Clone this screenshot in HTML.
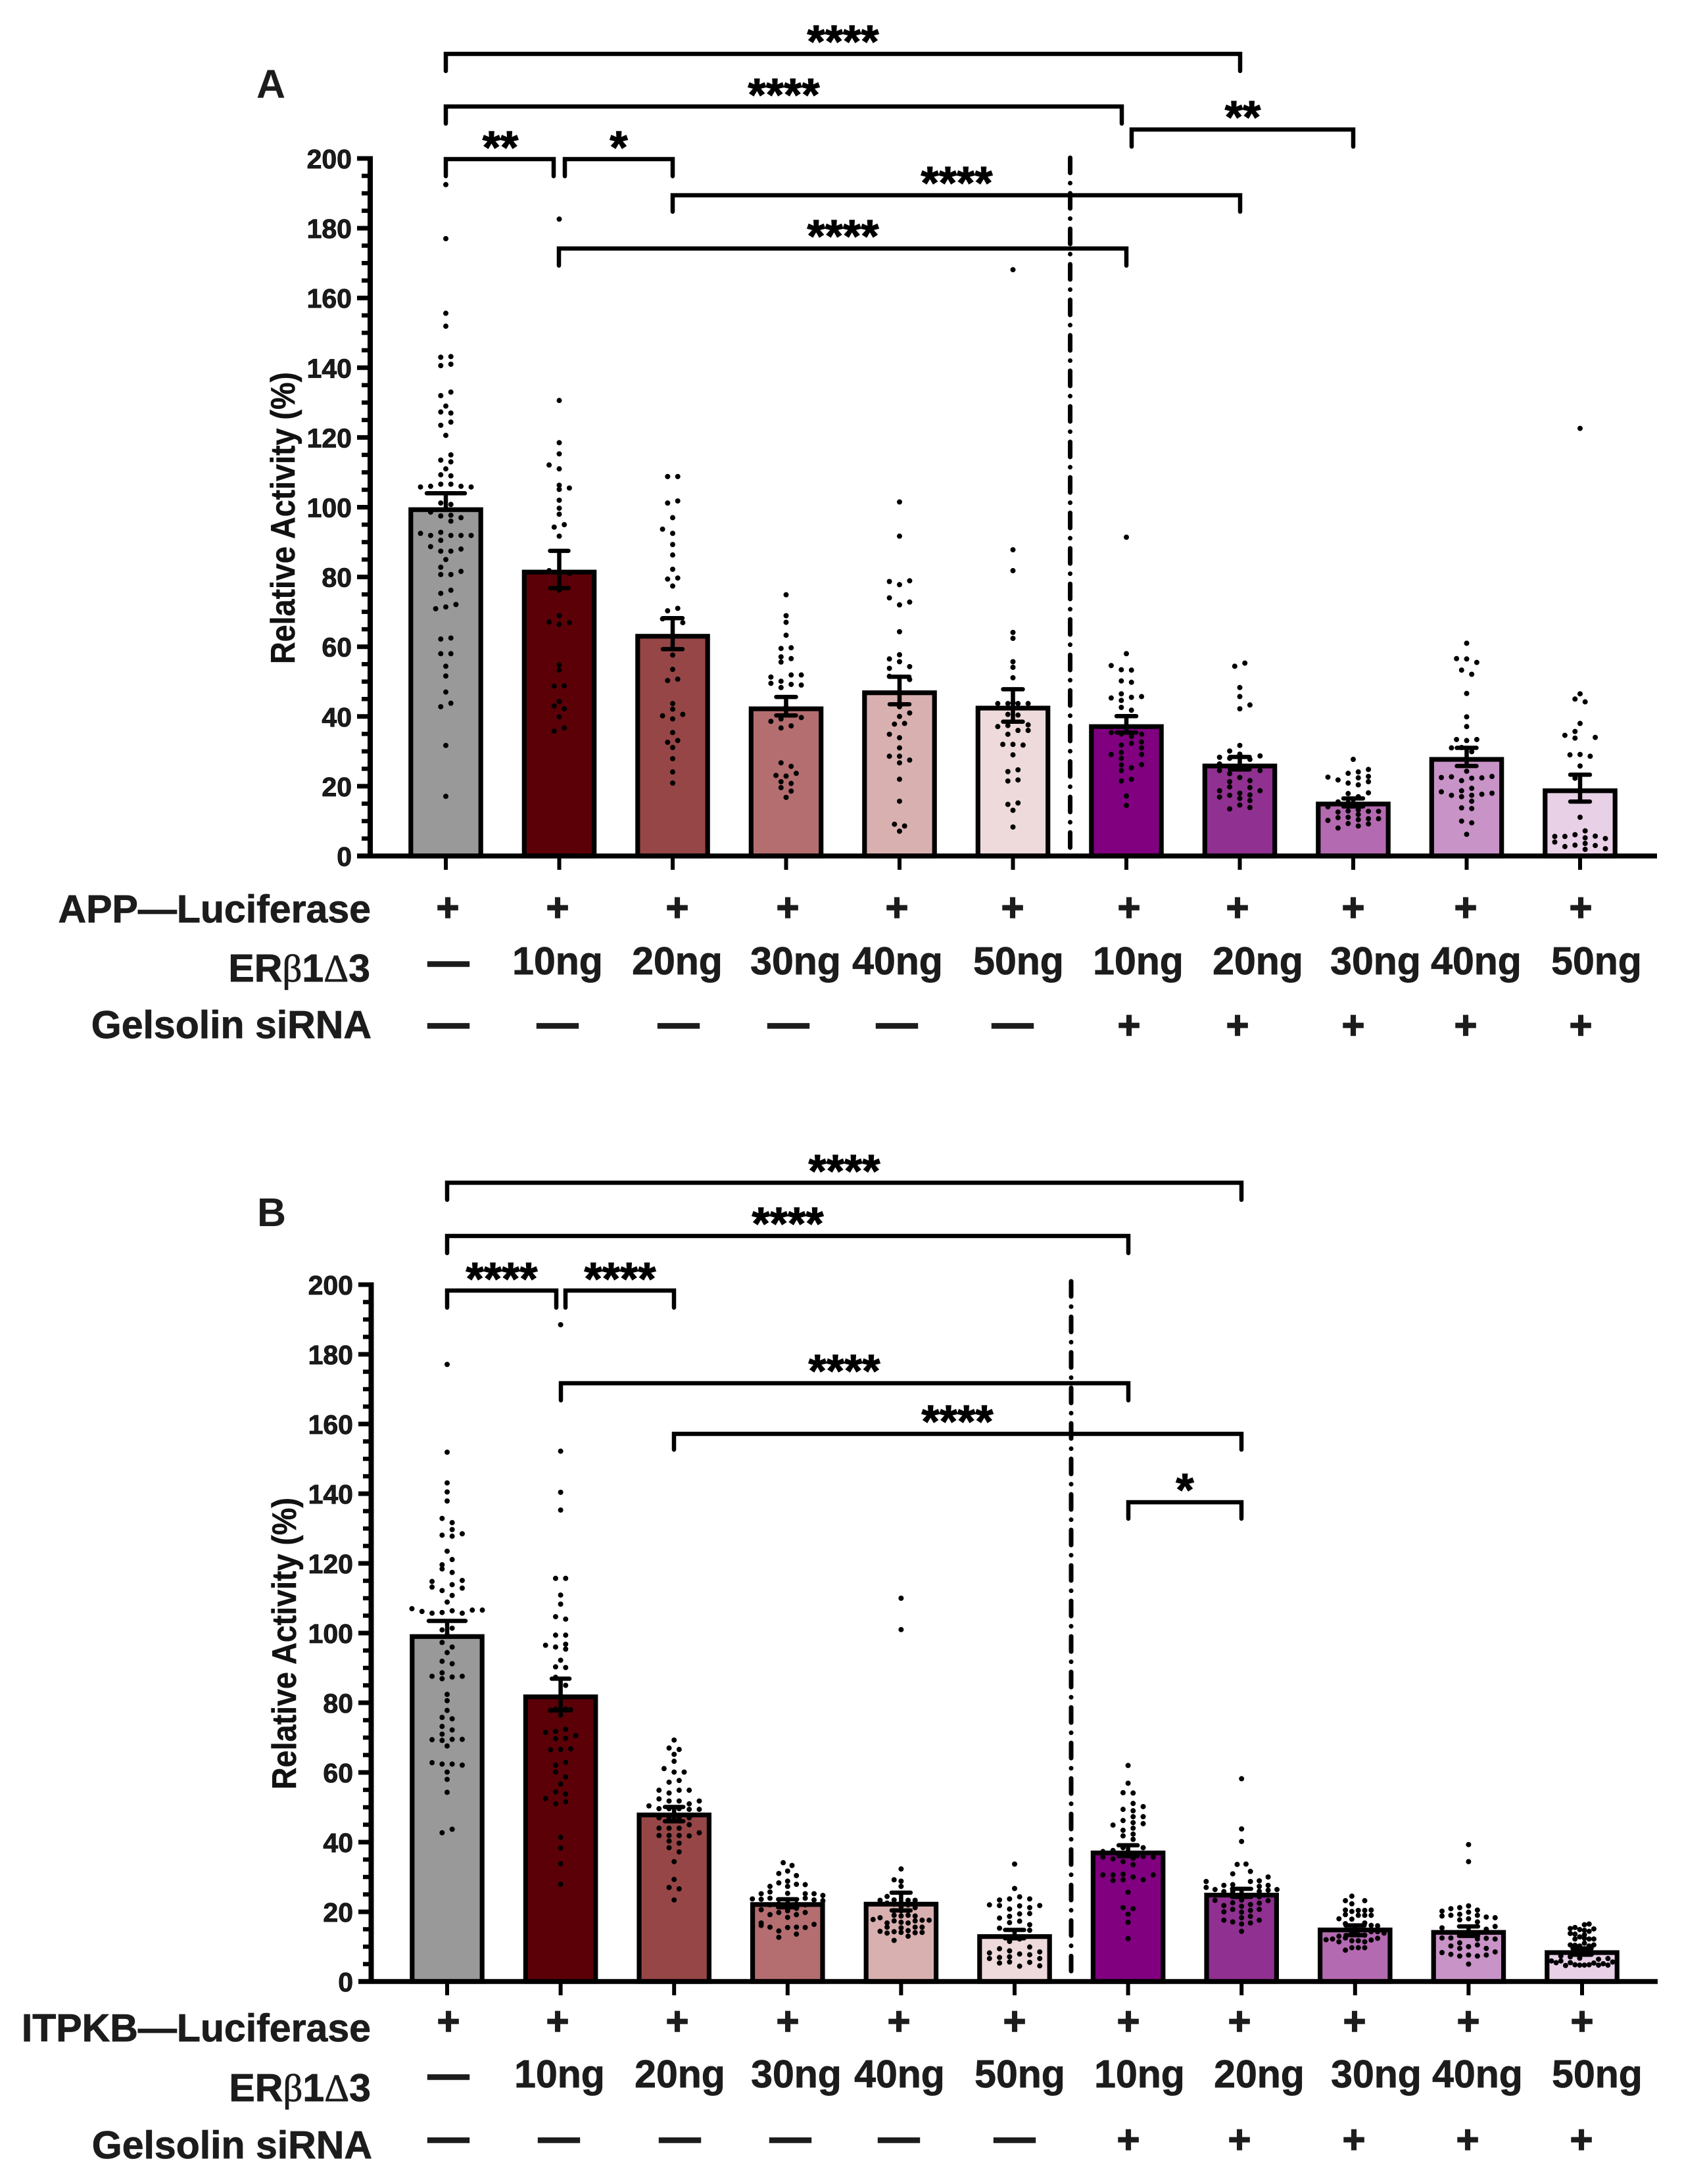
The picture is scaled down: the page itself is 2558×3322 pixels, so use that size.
<!DOCTYPE html>
<html lang="en">
<head>
<meta charset="utf-8">
<title>Relative Activity panels A and B</title>
<style>
html,body{margin:0;padding:0;background:#fff;}
svg{display:block;}
text{font-family:"Liberation Sans",sans-serif;font-weight:bold;fill:#1c1c1c;}
.sym{font-family:"Liberation Serif",serif;font-weight:normal;}
.row{font-size:59px;stroke:#1c1c1c;stroke-width:.8px;}
.stars{font-size:70px;fill:#000;text-anchor:middle;stroke:#000;stroke-width:1.2px;}
.ttl{font-size:52px;fill:#111;stroke:#111;stroke-width:.5px;}
.br{fill:none;stroke:#000;stroke-width:6.5px;stroke-linecap:round;stroke-linejoin:miter;}
.ldr{fill:none;stroke:#000;stroke-width:7px;stroke-linecap:round;stroke-dasharray:23 15.5 .01 15.5;}
</style>
</head>
<body>
<svg id="figure" xmlns="http://www.w3.org/2000/svg" width="2558" height="3322" viewBox="0 0 2558 3322">
<rect width="2558" height="3322" fill="#fff"/>
<g id="panelA"></g>
<g id="panelB"></g>

<g>
<text x="390" y="149" font-size="61" fill="#222">A</text>
<text class="ttl" transform="translate(448,788) rotate(-90)" text-anchor="middle" textLength="444" lengthAdjust="spacingAndGlyphs">Relative Activity (%)</text>
<text class="row" x="564" y="1403" text-anchor="end">APP—Luciferase</text>
<text class="row" x="563" y="1493" text-anchor="end">ER<tspan class="sym">β</tspan>1<tspan class="sym">Δ</tspan>3</text>
<text class="row" x="565" y="1579" text-anchor="end">Gelsolin siRNA</text>
<path class="br" d="M678 108V82H1886V108"/>
<text class="stars" x="1282" y="87">****</text>
<path class="br" d="M678 188V162H1706V188"/>
<text class="stars" x="1192" y="168">****</text>
<path class="br" d="M678 268V242H842V268"/>
<text class="stars" x="761" y="248">**</text>
<path class="br" d="M859 268V242H1023V268"/>
<text class="stars" x="941" y="248">*</text>
<path class="br" d="M1023 322V297H1886V322"/>
<text class="stars" x="1455" y="302">****</text>
<path class="br" d="M850 404V378H1713V404"/>
<text class="stars" x="1282" y="383">****</text>
<path class="br" d="M1721 223V197H2058V223"/>
<text class="stars" x="1890" y="202">**</text>
<line class="ldr" x1="1627.5" y1="240" x2="1627.5" y2="1292"/>
</g>

<g>
<text x="391" y="1865" font-size="61" fill="#222">B</text>
<text class="ttl" transform="translate(450,2500) rotate(-90)" text-anchor="middle" textLength="444" lengthAdjust="spacingAndGlyphs">Relative Activity (%)</text>
<text class="row" x="564" y="3105" text-anchor="end">ITPKB—Luciferase</text>
<text class="row" x="564" y="3196" text-anchor="end">ER<tspan class="sym">β</tspan>1<tspan class="sym">Δ</tspan>3</text>
<text class="row" x="566" y="3283" text-anchor="end">Gelsolin siRNA</text>
<path class="br" d="M680 1825V1799H1888V1825"/>
<text class="stars" x="1284" y="1805">****</text>
<path class="br" d="M680 1906V1880H1716V1906"/>
<text class="stars" x="1198" y="1885">****</text>
<path class="br" d="M680 1989V1963H846V1989"/>
<text class="stars" x="763" y="1969">****</text>
<path class="br" d="M860 1989V1963H1025V1989"/>
<text class="stars" x="943" y="1969">****</text>
<path class="br" d="M853 2130V2104H1716V2130"/>
<text class="stars" x="1284" y="2109">****</text>
<path class="br" d="M1025 2205V2181H1888V2205"/>
<text class="stars" x="1456" y="2186">****</text>
<path class="br" d="M1716 2310V2285H1888V2310"/>
<text class="stars" x="1802" y="2290">*</text>
<line class="ldr" x1="1629" y1="1949" x2="1629" y2="3005"/>
</g>
</svg>

<script>
// ---------- chart data ----------
const yTicks = [0,20,40,60,80,100,120,140,160,180,200];
const barColors = ["#999999","#5c0008","#964646","#b46e70","#d9b0b0","#eedadb","#800080","#903090","#b46ab0","#c893c6","#e8d0e6"];

const meansA = [99.3,81.4,63,42.2,46.8,42.4,37.1,25.8,14.9,27.7,18.7];
const errHighA = [104,87.5,68.2,45.6,51.4,47.8,40.1,28.4,16.5,31,23.3];
const errLowA = [99.3,76.8,59.3,40.3,43.5,38.5,35.4,24.8,14.2,25.8,15.6];

const meansB = [99,81.7,47.8,22.1,22.2,12.9,36.9,24.8,14.8,14.1,8.3];
const errHighB = [103.5,86.9,50.1,23.6,25.5,14.8,39.1,26.6,16.1,15.8,9.5];
const errLowB = [99,77.8,46,21.3,20.4,12.4,36,24.3,13.3,13.1,7.7];

const lucRow = ["+","+","+","+","+","+","+","+","+","+","+"];
const doseRow = ["—","10ng","20ng","30ng","40ng","50ng","10ng","20ng","30ng","40ng","50ng"];
const sirnaRow = ["—","—","—","—","—","—","+","+","+","+","+"];

// Data points: each key is the swarm column of a bar, each array the values in it.
const dotsA1 = {"0":[192.5,177,155.6,151.9,129,120.6,111,99.5,85,71.4,54.4,51.6,47,31.7,17.1],"-1":[143,140.6,132,127.3,123.5,113.5,109.3,106.6,101.2,97.5,92.8,90.5,87.4,82.8,80.7,75.3,62.2,58,42.8],"1":[143.2,141,133,127,124.4,115,113,109,106.6,100.8,97.7,96,91.9,87.4,80.7,76.2,62.5,58,43.8],"-3":[106,98.6,91.9,88.7],"3":[106,97,91.9,88,81.6],"-5":[105.8,92.5],"5":[105.8,91.9],"2":[72.1],"-2":[70.9]};
const dotsA2 = {"0":[182.6,130.6,118.5,115.3,111,106.3,105.1,102,99.7,98,91.7,76.2,68.9,66.4,54.8,53.3,44.3,39.9],"-2":[112.1,81.8,67.1],"2":[105.5,81,66.9],"1":[95,48.8,42.2,36.7],"-1":[94.3,48.7,43,35.8]};
const dotsA3 = {"-1":[108.8,101.2,79.4,70.3,50.3,32.6],"1":[108.8,101.8,79.7,71,50.7,33.1],"0":[97,92.5,89.3,86.3,82.2,77.4,57.6,53.5,43.7,42.1,39.3,35.4,31.1,27.9,24.1,20.9],"-2":[93.7,68,40.2],"2":[66.9,40.6]};
const dotsA4 = {"0":[74.9,68.9,67,63.3,42.7,22.9,16.8],"1":[59.7,56.6,51.9,49.2,37.3,25.7,20.8,18.6],"-1":[59.5,57.1,55.6,50.1,48.3,39.3,36.7,26.7,21.3,19.6],"3":[51.9,49,39.7],"-3":[51.3,49.5,38.6],"2":[23.7],"-2":[23.1]};
const dotsA5 = {"0":[101.5,91.7,77.8,72,64.3,57.7,55.7,42.8,40,33.9,31,28.6,26.7,22,15.7,7.1],"-2":[78.7,74,56.5,53.8,51.5,34.9,28.6],"2":[78.9,72.8,54.3,50.6,41,27.5],"-1":[37.8,9.1],"1":[38,8.6]};
const dotsA6 = {"0":[168.1,87.8,81.8,64.1,62.4,55.7,54.1,51.1,44,32,29,13.1,8.3],"-3":[43.7,37.1],"-1":[43.7,40.6,37.4,34.9,24.2,21.5,14.8],"1":[43.7,40.4,36,24.7,21.8,15.2],"3":[43.7,37.6,36],"-2":[32],"2":[31.8]};
const dotsA7 = {"0":[91.4,58,17.2,14.5],"-3":[54.6,45.3,35.4,29.1],"-1":[53.4,50.2,46.5,44.6,42.6,35,31.8,29.7,28,26.1,24.5,21.5],"1":[53.3,49.8,45.5,41.8,35.2,34.3,32.3,25.3,22],"3":[45.7,34.9,32.7,31,29.1,26.2]};
const dotsA8 = {"-1":[54.4],"1":[55.3],"0":[48.3,45.7,42.2,31.7,29.2,22.5,18,16.5,14.6],"2":[43.3,27.7,21.6,19.6,17.5,15.9,13.9],"-2":[30.1,28,23.6,21.3,19.8,17.4,13.5],"4":[28.7,24.5,18.7],"-4":[28.3,26.4,24.5,18.7,16.9]};
const dotsA9 = {"0":[27.7],"3":[24.8,22.8,21.3,18.1,12.8,10.7,9.2],"1":[24.1,22.4,20.4,17,13.2,11.9,10.4,8.6],"-1":[23.7,20.9,17.9,15.3,12.9,11.1,9.3],"-5":[22.6,14.1,10.2],"-3":[21.8,15.5,12.6,11,8],"5":[12.8,10.7]};
const dotsA10 = {"0":[61,56.5,46.6,39.9,37.1,33.1,24.3,6.2],"-2":[56.6,33.4],"2":[55.5,33.4],"-1":[53.3,31.1,21.6,18.7,17,13.8,10],"1":[52.1,29.9,22.3,19.4,17.4,15.7,13.6,9.5],"-3":[31,22.7,17.4],"-5":[22.5,18.4],"3":[22.4,17.7],"5":[22.8,18]};
const dotsA11 = {"0":[122.6,46.5,38,29.1,25.8,11.1],"-1":[45,35.7,33.8,22.3,6.1,3.1],"1":[44.2,7.2,5.2,3.6,1.9],"-3":[34.6,5.6,2.7],"3":[34,5.7,3],"-2":[29],"2":[28.6],"-5":[5.6,4],"5":[5,2.1]};

const dotsB1 = {"0":[177.1,151.9,143.1,140.5,137.9,123.5,108.9,99.4,94.4,82.4,80.6,77.8,67.6,60.1,58,54.3],"-1":[132.9,128.1,119.6,118.4,112.2,105.9,100.9,97.3,91.9,88.6,86.9,75.8,73.2,71,69.2,62.4,42.7],"1":[131.7,129.7,127.8,121.1,117.4,113.9,110.8,106.4,101.4,96,91.2,87.4,75.4,72.2,69.5,62.4,43.7],"3":[128.5,115.1,112.9,105.7,87.6,69.5,62.1],"-3":[114.8,113.2,105.7,87.6,69.4,62.8],"-7":[107],"7":[106.6],"5":[106.6],"-5":[106.2]};
const dotsB2 = {"0":[188.5,152.2,140.4,135.3,110.9,108.3,92.2,77.8,76.5,66.6,56.7,41.4,38.3,33.8,27.9],"-1":[115.7,104.7,99.4,96,90.3,87.3,71.8,69.7,62.1,60.1,54.4,51,78.2],"1":[115.7,104,99.4,96.8,95.4,90.1,85,78.2,72.4,69.8,62.9,58.7,53.8,51.6],"-3":[96.5,71.5,52.5],"3":[70.6],"-2":[77.8,66.5],"2":[78,66.8]};
const dotsB3 = {"0":[69.3,65.2,63.2,60.1,34.4,29.3,23.4],"-1":[67,57.2,54.1,51.8,49.6,47,44,41.9,40.3,38.4,27],"1":[66.6,57.7,54.9,51.8,49.6,47,44,41.9,39.7,37.2,26.6],"-2":[61.1],"2":[60.1],"-3":[54.9,52.4,49.6,47,44,41.9],"3":[54.9,51,49.4,47,45,41.8],"5":[51.8,49.4,42.7],"-5":[50.4]};
const dotsB4 = {"-1":[34.1],"1":[33.3],"0":[31.7,28.8,27.3,25.3,20.3,18.4,15.5],"-2":[31,28.3,22.3,19.8,14.5,12.7],"2":[30.4,27.9,22.3,21,19.2,15.6,13.6],"4":[27.8,25.2,23.9,22,19.8,15.5],"-4":[27.3,25.7,23.9,22,19.2,15.6],"-6":[25.2,23.6,20.6,16.8,16.1],"6":[25.2,23.4,16.4],"8":[24.7,23.2],"-8":[23.7]};
const dotsB5 = {"0":[110,101,32.3,28.8,27.3,22.5,21.5,20.3,18.8,17,15.4,14.1],"-2":[29.2,23.4,22.2,20.3,19,17.4,14.3,11.8],"-4":[24.4,22.5,16.8,15.6,13.9],"-6":[23.3,18.3,14.4],"2":[23.3,22,20.3,19,16.8,14.6,13],"4":[23.3,21.2,18.8,17.4,15.6,14],"-8":[17.8],"6":[17.6,15.6,14.1],"8":[17.6]};
const dotsB6 = {"0":[33.7,26.7],"1":[24.3,21.7,19.4,17.3,12.2,7.9,4.4],"-1":[23.7,20.8,18.7,16.9,12.3,11.5,8.8,7.1,5.6],"-3":[23.4,21.8,18.2,15.3,9.4,6.9,5.3],"3":[23.7,21.2,19.5,16.3,14.7,9.9,7.7,5.5],"-5":[22,8.2,6.6],"5":[21.8,8.5,6.6,4.5]};
const dotsB7 = {"0":[62,56.9,25.6,19.3,17,12.3],"-1":[54.2,49.4,46.2,43.4,41.8,38.4,34.4,30.8,29.2,21.2],"1":[54.1,51.1,49,47.3,45.6,44,42.3,40.8,35.4,33.5,30,20.9],"3":[50.2,47.3,45.3,38.4,35.9,29.2],"-3":[44.9,37.6,35.2,30.6,29],"-5":[37.3,35.7,30.6],"5":[35.7,30.6]};
const dotsB8 = {"0":[58.2,43.8,40.2,23.4,21.6,19.9,18.3,16.5,14.4],"-1":[33.6],"1":[33.7],"2":[31.6,28.7,22.1,20.4,18.7,16.8],"-2":[30.9,27.8,25.9,22.6,20.7,17.1],"6":[30,27.6,26.2,23.2],"4":[28.9,27.3,25.9,24.3,22.5,20.7,17.6],"-8":[28.7,27],"-4":[27.6,25.8,21.8,20,17.6],"-6":[26.4,23.3],"8":[26.4]};
const dotsB9 = {"-1":[24.5,22.3,20.1,17.9,14.1,11.7,9.7],"3":[23.2,20.4,19,16.8,13.3,11.4,9.7],"-3":[23.2,20.5,19.2,16.6,12.5,9],"1":[20.4,19,13.4,11.7,9.7],"5":[20.5,19,16.1,14.3,11.9],"-5":[18,13,11.4],"7":[16,14.3,12.4],"9":[13.9],"-9":[12],"-7":[12.2]};
const dotsB10 = {"0":[39.3,34.4,21.7,19.9,18,13.3,10,7.6,5],"-2":[21.2,19.3,17.7,13.6,11.1,9.5,7.3],"-4":[20.9,19,12.5,10.2,7.8],"-6":[20.2,18.8,15.4,12.5,8.3],"2":[20.5,19,17.1,12.2,10.5,7.3],"4":[18.5,15,12.4,9.5,7.6],"6":[18.3,15.8,12.2,8.5]};
const dotsB11 = {"1":[16.3,14.7,13.4,12.4,11,4.7],"3":[16.5,14.4,12.2,10.2,4.8],"-3":[15.5,13.6,12.2,10.4,4.8],"-5":[15.2,13.8,10.5,7.1,5.4],"5":[15.1,12.2,10.5,5.3],"-1":[14.9,12.8,10.2,6.7,4.7],"-9":[7.3,5.9],"11":[6.6,4.7],"7":[6.4,4.7],"-13":[5.9],"13":[5.6],"-11":[5.4],"9":[5.1],"-7":[4.6]};

const dotsA = [dotsA1,dotsA2,dotsA3,dotsA4,dotsA5,dotsA6,dotsA7,dotsA8,dotsA9,dotsA10,dotsA11];
const dotsB = [dotsB1,dotsB2,dotsB3,dotsB4,dotsB5,dotsB6,dotsB7,dotsB8,dotsB9,dotsB10,dotsB11];

// ---------- layout ----------
const NS = "http://www.w3.org/2000/svg";
const layoutA = {group:"panelA",axisX:563,y0:1302,y200:241,tickLeft:543,axisRight:2520,barX0:678,barDx:172.5,tickBottom:1323,
  halfSteps:[7.7,7.7,7.7,7.7,7.7,7.7,7.7,7.7,7.7,7.7,7.7],capW:[64,34,36,36,36,36,36,36,36,36,36],
  lucX:[681,848,1030,1198,1364,1540,1717,1882,2058,2229,2404],lucY:1381,
  doseX:[682,848,1030,1210,1365,1549,1731,1913,2092,2245,2428],doseBase:1482,doseDashY:1466,
  sirX:[682,848,1032,1199,1364,1540,1717,1882,2058,2229,2404],sirY:1560};
const layoutB = {group:"panelB",axisX:564.5,y0:3014,y200:1954,tickLeft:545,axisRight:2521,barX0:680,barDx:172.6,tickBottom:3035,
  halfSteps:[7.65,7.65,7.65,6.7,5.33,7.65,7.65,6.73,4.9,6.73,3.58],capW:[62,33,34,35,35,35,35,35,35,35,35],
  lucX:[682,848,1030,1198,1367,1543,1716,1885,2060,2233,2406],lucY:3075,
  doseX:[682,851,1034,1211,1368,1551,1733,1915,2093,2247,2429],doseBase:3175,doseDashY:3159,
  sirX:[682,850,1034,1202,1367,1543,1716,1885,2059,2232,2405],sirY:3255};

function mk(tag, parent, attrs){
  const el = document.createElementNS(NS, tag);
  for (const k in attrs) el.setAttribute(k, attrs[k]);
  parent.appendChild(el);
  return el;
}

function drawPanel(L, means, hi, lo, dots){
  const g = document.getElementById(L.group);
  const yS = v => L.y0 - v * (L.y0 - L.y200) / 200;
  const xS = i => L.barX0 + i * L.barDx;

  // bars
  means.forEach((m, i) => {
    const el = mk("rect", g, {x:xS(i)-53.2, y:yS(m), width:106.4, height:L.y0-yS(m), fill:barColors[i], stroke:"#000", "stroke-width":7.2});
    
    
  });

  // error bars
  means.forEach((m, i) => {
    const cx = xS(i), w = L.capW[i] / 2;
    const stem = mk("line", g, {x1:cx, x2:cx, y1:yS(hi[i]), y2:yS(lo[i]), stroke:"#000", "stroke-width":6.5});
    
    
    const capTop = mk("line", g, {x1:cx-w+3, x2:cx+w-3, y1:yS(hi[i]), y2:yS(hi[i]), stroke:"#000", "stroke-width":6.5, "stroke-linecap":"round"});
    
    
    if (lo[i] < m) {
      const capLow = mk("line", g, {x1:cx-w+3, x2:cx+w-3, y1:yS(lo[i]), y2:yS(lo[i]), stroke:"#000", "stroke-width":6.5, "stroke-linecap":"round"});
      
      
    }
  });

  // data points
  dots.forEach((group, i) => {
    Object.keys(group).forEach(col => {
      group[col].forEach(v => {
        const c = mk("circle", g, {cx:xS(i)+parseFloat(col)*L.halfSteps[i], cy:yS(v), r:4, fill:"#000"});
        
        
      });
    });
  });

  // y axis
  const ya = mk("line", g, {x1:L.axisX, x2:L.axisX, y1:yS(200)-3.5, y2:L.y0+3.5, stroke:"#000", "stroke-width":8});
  
  
  for (let v = 0; v <= 200; v += 5) {
    if (v % 20 === 0) continue;
    const t = mk("line", g, {x1:L.tickLeft+7, x2:L.axisX, y1:yS(v), y2:yS(v), stroke:"#000", "stroke-width":6.5});
    
    
  }
  yTicks.forEach(v => {
    const t = mk("line", g, {x1:L.tickLeft, x2:L.axisX, y1:yS(v), y2:yS(v), stroke:"#000", "stroke-width":7});
    
    
    const lab = mk("text", g, {x:L.tickLeft-8, y:yS(v)+15, "text-anchor":"end", "font-size":41, fill:"#000", stroke:"#000", "stroke-width":.8});
    lab.textContent = v;
    
    
  });

  // x axis
  const xa = mk("line", g, {x1:L.tickLeft, x2:L.axisRight, y1:L.y0, y2:L.y0, stroke:"#000", "stroke-width":7.5});
  
  
  means.forEach((m, i) => {
    const t = mk("line", g, {x1:xS(i), x2:xS(i), y1:L.y0, y2:L.tickBottom, stroke:"#000", "stroke-width":6});
    
    
  });

  // condition rows
  function sign(s, x, yc, name){
    const isDash = s === "—";
    const t = mk("text", g, {x:x, y:yc+(isDash?17:20), "text-anchor":"middle", "font-size":isDash?62:60, stroke:"#1c1c1c", "stroke-width":isDash?2.4:1.5});
    t.textContent = s;
    
    
  }
  lucRow.forEach((s, i) => sign(s, L.lucX[i], L.lucY, "luciferase-sign"));
  doseRow.forEach((s, i) => {
    if (s === "—") { sign(s, L.doseX[i], L.doseDashY, "dose-sign"); return; }
    const t = mk("text", g, {x:L.doseX[i], y:L.doseBase, "text-anchor":"middle", "font-size":59, stroke:"#1c1c1c", "stroke-width":.8});
    t.textContent = s;
    
    
  });
  sirnaRow.forEach((s, i) => sign(s, L.sirX[i], L.sirY, "sirna-sign"));
}

drawPanel(layoutA, meansA, errHighA, errLowA, dotsA);
drawPanel(layoutB, meansB, errHighB, errLowB, dotsB);
</script>
</body>
</html>
